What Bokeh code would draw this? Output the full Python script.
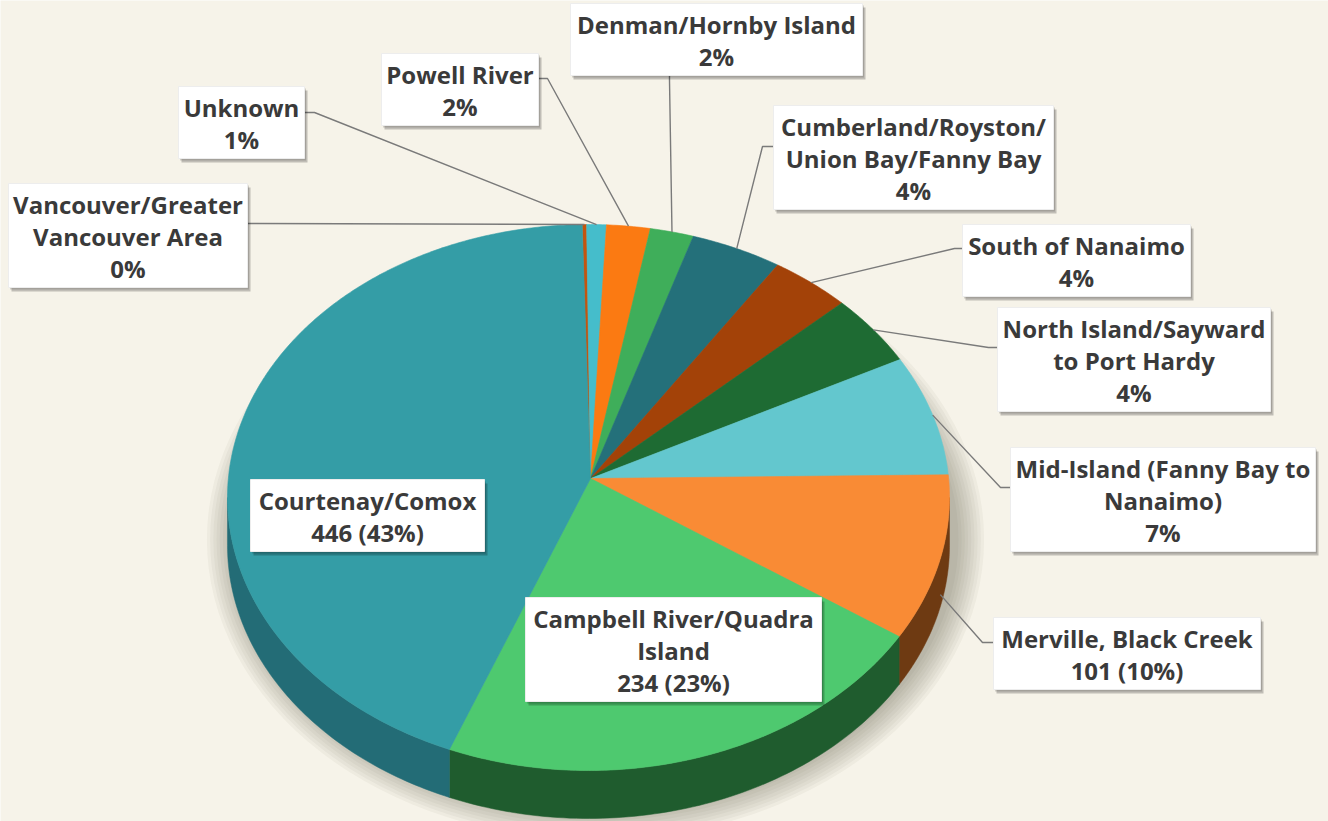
import numpy as np
from bokeh.plotting import figure
from bokeh.models import Range1d
from bokeh.embed import file_html
from bokeh.resources import INLINE
from bokeh.core.properties import value

# ---------------- data ----------------
categories = [
    "Vancouver/Greater Vancouver Area",
    "Unknown",
    "Powell River",
    "Denman/Hornby Island",
    "Cumberland/Royston/Union Bay/Fanny Bay",
    "South of Nanaimo",
    "North Island/Sayward to Port Hardy",
    "Mid-Island (Fanny Bay to Nanaimo)",
    "Merville, Black Creek",
    "Campbell River/Quadra Island",
    "Courtenay/Comox",
]
counts = [2, 9, 20, 20, 42, 37, 43, 73, 101, 234, 446]
name_lines = [
    ["Vancouver/Greater", "Vancouver Area"],
    ["Unknown"],
    ["Powell River"],
    ["Denman/Hornby Island"],
    ["Cumberland/Royston/", "Union Bay/Fanny Bay"],
    ["South of Nanaimo"],
    ["North Island/Sayward", "to Port Hardy"],
    ["Mid-Island (Fanny Bay to", "Nanaimo)"],
    ["Merville, Black Creek"],
    ["Campbell River/Quadra", "Island"],
    ["Courtenay/Comox"],
]
show_count = [False, False, False, False, False, False, False, False, True, True, True]
top_colors = ["#C4540E", "#45BDCB", "#FB7A12", "#3FAE5A", "#24707A", "#A34208",
              "#1E6B33", "#63C7CE", "#F98B35", "#4EC96F", "#349DA6"]
side_colors = ["#7A330A", "#2C7E88", "#A34F0C", "#26703A", "#174B52", "#6A2B05",
               "#133F1F", "#3E858A", "#6E3A12", "#1F5C2E", "#236C76"]

# ---------------- layout ----------------
W, H = 1328, 821
BG = "#F6F3E9"
cx, cy, rx, ry = 588.0, 497.0, 361.0, 273.0
apex_x, apex_y = 590.0, 478.0
depth = 48.0
start_deg = -1.0

# label boxes: left, top, width
boxes = [
    (8, 183, 239), (178, 86, 126), (381, 53, 157), (570, 3, 292),
    (773, 105, 280), (962, 224, 228), (997, 307, 273), (1010, 447, 305),
    (993, 617, 267), (525, 597, 296), (250, 479, 234),
]
# leader start (box edge) and elbow
leaders = [
    ((247, 223), (256, 223)), ((304, 112), (314, 112)), ((538, 78), (547, 78)),
    ((669, 75), (669, 80)), ((773, 146), (762, 146)), ((962, 248), (954, 248)),
    ((997, 347), (988, 347)), ((1010, 487), (1000, 487)), ((993, 642), (982, 642)),
    None, None,
]
LINE_H = 32
FONT = value("Open Sans")

p = figure(width=W, height=H, x_range=Range1d(0, W), y_range=Range1d(H, 0),
           output_backend="svg", toolbar_location=None, min_border=0)
p.axis.visible = False
p.grid.visible = False
p.outline_line_color = None
p.background_fill_color = BG
p.border_fill_color = BG


def ell(theta, dy=0.0):
    t = np.radians(theta)
    return cx + rx * np.sin(t), cy - ry * np.cos(t) + dy


total = float(sum(counts))
angles = [c / total * 360.0 for c in counts]
starts = [start_deg + sum(angles[:i]) for i in range(len(angles))]
ends = [s + a for s, a in zip(starts, angles)]

# soft shadow behind pie
for k in range(9):
    grow = 3.2 * k + 2
    p.ellipse(x=[cx + 7], y=[cy + 42], width=[2 * (rx + grow)], height=[2 * (ry + grow)],
              fill_color="#4a4232", fill_alpha=0.045, line_color=None)

# side walls
for s, e, col in zip(starts, ends, side_colors):
    lo, hi = max(s, 90.0), min(e, 270.0)
    if hi <= lo:
        continue
    ts = np.linspace(lo, hi, 80)
    x1, y1 = ell(ts)
    x2, y2 = ell(ts[::-1], depth)
    p.patch(np.concatenate([x1, x2]), np.concatenate([y1, y2]),
            fill_color=col, line_color=col, line_width=0.5)

# top wedges
for s, e, col in zip(starts, ends, top_colors):
    ts = np.linspace(s, e, max(4, int((e - s) * 2)))
    x1, y1 = ell(ts)
    p.patch(np.concatenate([[apex_x], x1]), np.concatenate([[apex_y], y1]),
            fill_color=col, line_color=col, line_width=0.6)

# leader lines
lx, ly = [], []
for i, ld in enumerate(leaders):
    if ld is None:
        continue
    mid = (starts[i] + ends[i]) / 2.0
    front = 90.0 < mid < 270.0
    ax, ay = ell(mid, depth * 0.75 if front else 0.0)
    (sx, sy), (ex, ey) = ld
    lx.append([sx, ex, float(ax)])
    ly.append([sy, ey, float(ay)])
p.multi_line(lx, ly, line_color="#7a7a7a", line_width=1.4)

# label boxes with shadow and text
for i, (bl, bt, bw) in enumerate(boxes):
    pct = round(100.0 * counts[i] / total)
    last = f"{counts[i]} ({pct}%)" if show_count[i] else f"{pct}%"
    lines = name_lines[i] + [last]
    bh = LINE_H * len(lines) + 8
    p.quad(left=[bl + 3], right=[bl + bw + 3], top=[bt + 4], bottom=[bt + bh + 4],
           fill_color="#000000", fill_alpha=0.22, line_color=None)
    p.quad(left=[bl + 1.5], right=[bl + bw + 1.5], top=[bt + 2], bottom=[bt + bh + 2],
           fill_color="#000000", fill_alpha=0.15, line_color=None)
    p.quad(left=[bl], right=[bl + bw], top=[bt], bottom=[bt + bh],
           fill_color="#FFFFFF", line_color="#EDEDED", line_width=1)
    xs = [bl + bw / 2.0] * len(lines)
    ys = [bt + 21 + LINE_H * j for j in range(len(lines))]
    p.text(x=xs, y=ys, text=lines, text_font=FONT, text_font_style="bold",
           text_font_size="24px", text_color="#3A3A3A",
           text_align="center", text_baseline="middle")

html = file_html(p, INLINE)
html = html.replace("<body>", f'<body style="margin:0;background:{BG}">', 1)
open("out.html", "w").write(html)
